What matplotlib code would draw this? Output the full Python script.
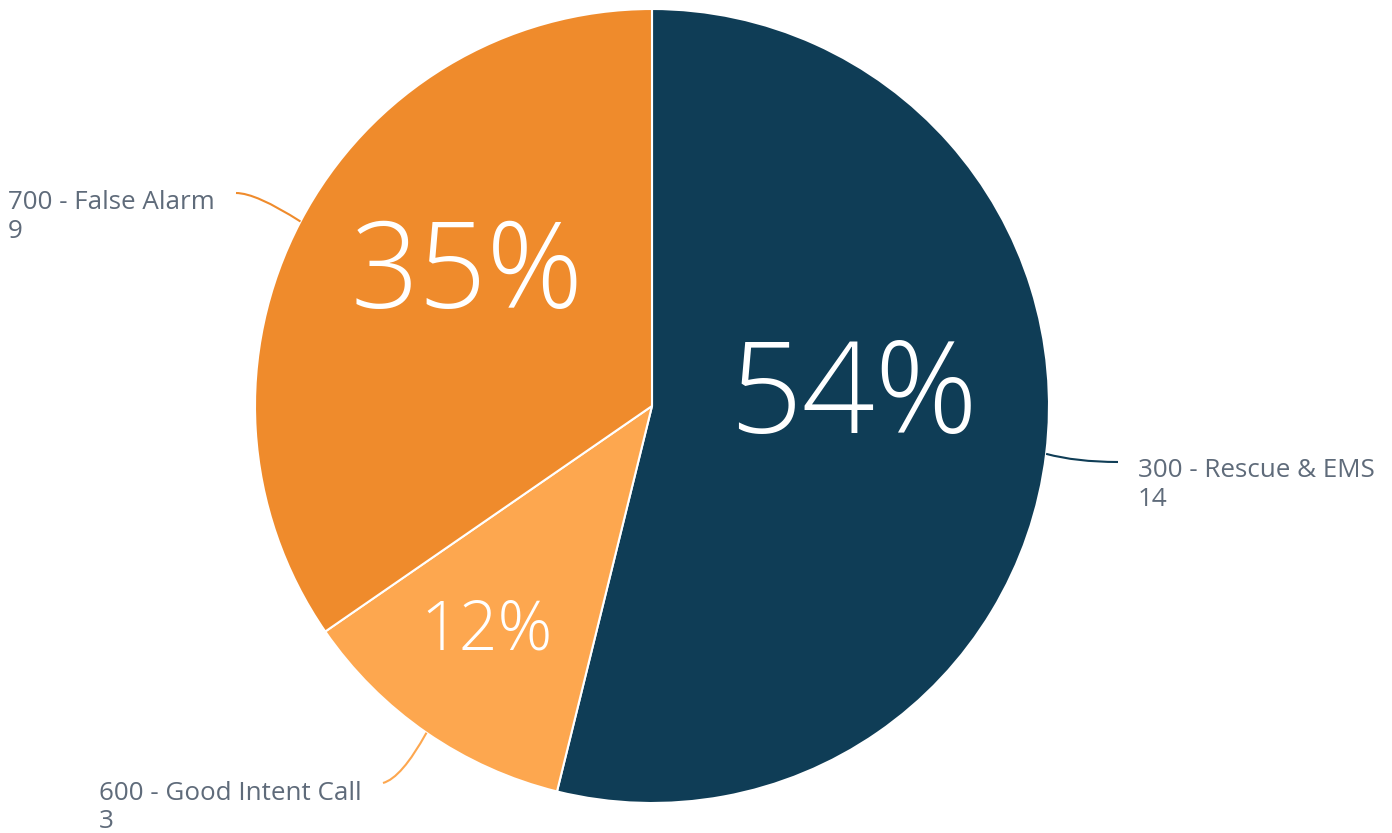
import numpy as np
import matplotlib
matplotlib.use("Agg")
import matplotlib.pyplot as plt
from matplotlib.path import Path
from matplotlib.patches import PathPatch

categories = ["300 - Rescue & EMS", "600 - Good Intent Call", "700 - False Alarm"]
values = [14, 3, 9]
colors = ["#0f3d56", "#fda74f", "#ef8b2c"]

W, H = 1392, 833
fig = plt.figure(figsize=(W / 100, H / 100), dpi=100)
ax = fig.add_axes([0, 0, 1, 1])

cx, cy, R = 652, H - 406, 397
wedges, _ = ax.pie(values, colors=colors, startangle=90, counterclock=False,
                   center=(cx, cy), radius=R, frame=True,
                   wedgeprops=dict(edgecolor="white", linewidth=1.5))
ax.set_xlim(0, W)
ax.set_ylim(0, H)
ax.set_aspect("equal")
ax.axis("off")

total = sum(values)
font = ["Open Sans", "DejaVu Sans"]
# percent label positions (center x, baseline y from top) and sizes
pct_pos = [(853, 433), (487, 650), (467, 308)]
pct_size = [92, 49, 86]
for v, (px, py), s in zip(values, pct_pos, pct_size):
    ax.text(px, H - py, f"{round(v / total * 100)}%", color="white",
            fontsize=s, family=font, fontweight="light",
            ha="center", va="baseline")

# outer labels (left x, baseline y from top)
lab_pos = [(1138, 477), (99, 800), (8, 209)]
line_end = [(1118, 462), (383, 783), (236, 193)]
text_color = "#5f6b7a"
start = 90.0
for i, v in enumerate(values):
    sweep = v / total * 360
    mid = np.deg2rad(start - sweep / 2)
    start -= sweep
    ax_pt = (cx + R * np.cos(mid), cy + R * np.sin(mid))
    ex, ey = line_end[i][0], H - line_end[i][1]
    if i == 1:
        ctrl = (ax_pt[0] - 25, ey + 5)
    elif i == 2:
        ctrl = (ex + 20, ey)
    else:
        ctrl = (ax_pt[0] + 30, ey)
    path = Path([ax_pt, ctrl, (ex, ey)], [Path.MOVETO, Path.CURVE3, Path.CURVE3])
    ax.add_patch(PathPatch(path, fill=False, edgecolor=colors[i], linewidth=1.5))
    lx, ly = lab_pos[i]
    ax.text(lx, H - ly, categories[i], color=text_color, fontsize=18.7,
            family=font, ha="left", va="baseline")
    ax.text(lx, H - ly - 28.5, str(v), color=text_color, fontsize=18.7,
            family=font, ha="left", va="baseline")

fig.savefig("out.png", dpi=100, facecolor="white")
